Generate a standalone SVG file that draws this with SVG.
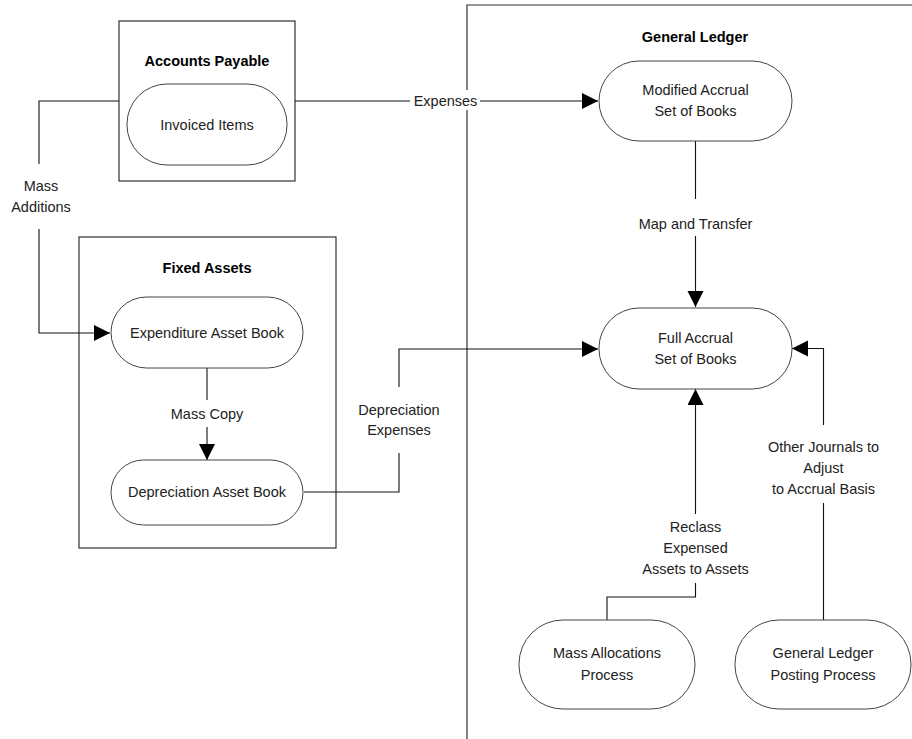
<svg xmlns="http://www.w3.org/2000/svg" width="912" height="739" viewBox="0 0 912 739">
<defs>
<style>
.box{fill:none;stroke:#333;stroke-width:1.2}
.pill{fill:#fff;stroke:#444;stroke-width:1}
.ln{fill:none;stroke:#111;stroke-width:1.1}
.t{font-family:"Liberation Sans",Arial,sans-serif;font-size:14.5px;fill:#222;text-anchor:middle}
.h{font-family:"Liberation Sans",Arial,sans-serif;font-size:14.5px;font-weight:bold;fill:#000;text-anchor:middle}
</style>
<marker id="arr" markerUnits="userSpaceOnUse" markerWidth="17" markerHeight="17" refX="16" refY="8" orient="auto">
<path d="M0,0 L16,8 L0,16 Z" fill="#000"/>
</marker>
</defs>
<rect width="912" height="739" fill="#fff"/>

<g id="general-ledger">
<path class="box" d="M912,5 H467 V739"/>
<text class="h" x="695" y="42">General Ledger</text>
</g>

<g id="accounts-payable">
<rect class="box" x="119" y="21" width="176" height="160"/>
<text class="h" x="207" y="66">Accounts Payable</text>
</g>

<g id="fixed-assets">
<rect class="box" x="79" y="237" width="257" height="311"/>
<text class="h" x="207" y="273">Fixed Assets</text>
</g>

<g id="connectors">
<path class="ln" d="M295,101 H410"/>
<rect x="410" y="90" width="70" height="20" fill="#fff"/>
<text class="t" x="445.5" y="106">Expenses</text>
<path class="ln" d="M480,101 H598" marker-end="url(#arr)"/>

<path class="ln" d="M119,101 H39 V164"/>
<text class="t" x="41" y="191">Mass</text>
<text class="t" x="41" y="212">Additions</text>
<path class="ln" d="M39,229 V333 H110" marker-end="url(#arr)"/>

<path class="ln" d="M207,368 V400"/>
<text class="t" x="207" y="419">Mass Copy</text>
<path class="ln" d="M207,427 V460" marker-end="url(#arr)"/>

<path class="ln" d="M304,492 H399 V453"/>
<text class="t" x="399" y="415">Depreciation</text>
<text class="t" x="399" y="435">Expenses</text>
<path class="ln" d="M399,387 V349 H598" marker-end="url(#arr)"/>

<path class="ln" d="M695.5,141 V199"/>
<text class="t" x="695.5" y="229">Map and Transfer</text>
<path class="ln" d="M695.5,236 V307" marker-end="url(#arr)"/>

<path class="ln" d="M607,620 V597 H695.5 V583"/>
<text class="t" x="695.5" y="532">Reclass</text>
<text class="t" x="695.5" y="553">Expensed</text>
<text class="t" x="695.5" y="574">Assets to Assets</text>
<path class="ln" d="M695.5,514 V389" marker-end="url(#arr)"/>

<path class="ln" d="M823.5,620 V503"/>
<text class="t" x="823.5" y="452">Other Journals to</text>
<text class="t" x="823.5" y="473">Adjust</text>
<text class="t" x="823.5" y="494">to Accrual Basis</text>
<path class="ln" d="M823.5,425 V348.5 H792" marker-end="url(#arr)"/>
</g>

<g id="invoiced-items">
<rect class="pill" x="127" y="84" width="160" height="81" rx="40" ry="40"/>
<text class="t" x="207" y="130">Invoiced Items</text>
</g>

<g id="modified-accrual">
<rect class="pill" x="599" y="61" width="193" height="80" rx="40" ry="40"/>
<text class="t" x="695.5" y="95">Modified Accrual</text>
<text class="t" x="695.5" y="116">Set of Books</text>
</g>

<g id="full-accrual">
<rect class="pill" x="599" y="308" width="193" height="81" rx="40" ry="40"/>
<text class="t" x="695.5" y="343">Full Accrual</text>
<text class="t" x="695.5" y="364">Set of Books</text>
</g>

<g id="expenditure-asset-book">
<rect class="pill" x="111" y="297" width="192" height="71" rx="35.5" ry="35.5"/>
<text class="t" x="207" y="338">Expenditure Asset Book</text>
</g>

<g id="depreciation-asset-book">
<rect class="pill" x="111" y="460" width="192" height="65" rx="32.5" ry="32.5"/>
<text class="t" x="207" y="497">Depreciation Asset Book</text>
</g>

<g id="mass-allocations">
<rect class="pill" x="519" y="620" width="176" height="89" rx="44" ry="44"/>
<text class="t" x="607" y="658">Mass Allocations</text>
<text class="t" x="607" y="680">Process</text>
</g>

<g id="gl-posting">
<rect class="pill" x="735" y="620" width="176" height="89" rx="44" ry="44"/>
<text class="t" x="823" y="658">General Ledger</text>
<text class="t" x="823" y="680">Posting Process</text>
</g>
</svg>
